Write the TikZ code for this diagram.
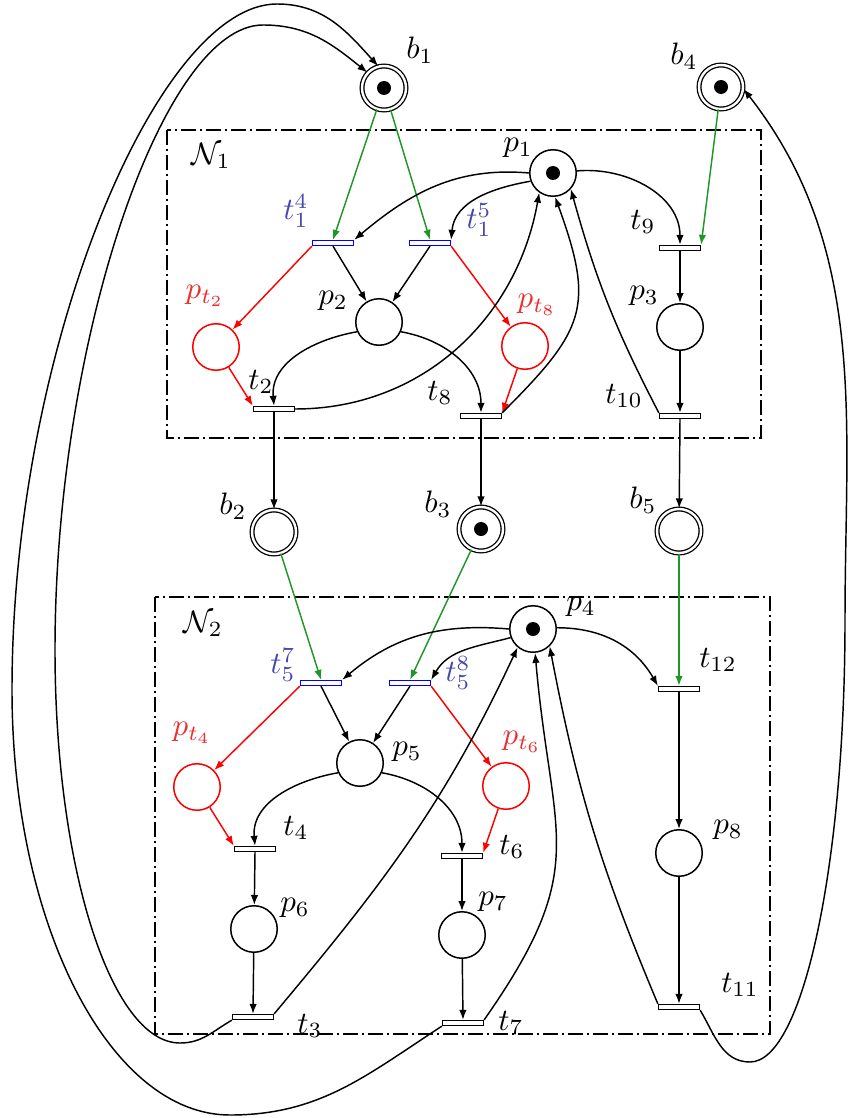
\documentclass[tikz,border=0pt]{standalone}
\usetikzlibrary{arrows.meta}
\definecolor{petgreen}{RGB}{30,150,40}
\definecolor{labred}{RGB}{235,45,45}
\definecolor{labblue}{RGB}{70,70,175}
\tikzset{
 pplace/.style={circle,draw,line width=1.5pt,minimum size=46.5pt,inner sep=0pt},
 rplace/.style={pplace,draw=red},
 bplace/.style={circle,draw,double,double distance=2.4pt,line width=1.3pt,minimum size=44pt,inner sep=0pt},
 trans/.style={rectangle,draw,fill=white,line width=1.3pt,minimum width=41pt,minimum height=5pt,inner sep=0pt},
 btrans/.style={trans,draw=blue},
 lbl/.style={scale=3.1,inner sep=0pt},
 cn/.style={line width=1.45pt,-{Latex[length=10pt,width=7.5pt]}},
 gcn/.style={cn,petgreen},
 rcn/.style={cn,red},
 netbox/.style={line width=1.3pt,dash pattern=on 15pt off 4pt on 2pt off 4pt},
}
\begin{document}
\begin{tikzpicture}[x=1pt,y=1pt]
\useasboundingbox (0,0) rectangle (847,-1118);
% boxes
\draw[netbox] (167,-130) rectangle (761,-438);
\draw[netbox] (155,-597) rectangle (770,-1034);
% places
\node[bplace] (b1) at (384,-88) {};
\node[bplace] (b4) at (721,-87) {};
\node[pplace] (p1) at (553,-173) {};
\node[pplace] (p2) at (379,-322) {};
\node[rplace] (pt2) at (216,-347) {};
\node[rplace] (pt8) at (525,-346) {};
\node[pplace] (p3) at (680,-327) {};
\node[bplace] (b2) at (274,-532) {};
\node[bplace] (b3) at (481,-529) {};
\node[bplace] (b5) at (679,-531) {};
\node[pplace] (p4) at (533,-629) {};
\node[pplace] (p5) at (360,-763) {};
\node[rplace] (pt4) at (197,-787) {};
\node[rplace] (pt6) at (506,-786) {};
\node[pplace] (p8) at (679,-853) {};
\node[pplace] (p6) at (254,-929) {};
\node[pplace] (p7) at (462,-935) {};
% tokens
\foreach \n in {b1,b3,b4,p1,p4} \fill (\n) circle[radius=7pt];
% transitions
\node[btrans] (t14) at (333,-243) {};
\node[btrans] (t15) at (430,-243) {};
\node[trans] (t9) at (680,-248) {};
\node[trans] (t2) at (274,-409) {};
\node[trans] (t8) at (481,-416) {};
\node[trans] (t10) at (680,-416) {};
\node[btrans] (t57) at (321,-683) {};
\node[btrans] (t58) at (410,-683) {};
\node[trans] (t12) at (679,-689) {};
\node[trans] (t4) at (255,-849) {};
\node[trans] (t6) at (462,-856) {};
\node[trans] (t3) at (253,-1017) {};
\node[trans] (t7) at (463,-1023) {};
\node[trans] (t11) at (679,-1007) {};
% labels
\node[lbl] (lb1) at (420,-50) {$b_1$};
\node[lbl] (lb4) at (684,-56) {$b_4$};
\node[lbl] (lp1) at (518,-148) {$p_1$};
\node[lbl,labblue] (lt14) at (296,-211) {$t_1^4$};
\node[lbl,labblue] (lt15) at (479,-220) {$t_1^5$};
\node[lbl] (lt9) at (643,-222) {$t_9$};
\node[lbl,labred] (lpt2) at (205,-296) {$p_{t_2}$};
\node[lbl] (lp2) at (333,-301) {$p_2$};
\node[lbl,labred] (lpt8) at (537,-305) {$p_{t_8}$};
\node[lbl] (lp3) at (644,-296) {$p_3$};
\node[lbl] (lt2) at (261,-382) {$t_2$};
\node[lbl] (lt8) at (440,-393) {$t_8$};
\node[lbl] (lt10) at (624,-396) {$t_{10}$};
\node[lbl] (lN1) at (211,-156) {$\mathcal{N}_1$};
\node[lbl] (lb2) at (233,-506) {$b_2$};
\node[lbl] (lb3) at (438,-504) {$b_3$};
\node[lbl] (lb5) at (643,-500) {$b_5$};
\node[lbl] (lN2) at (203,-624) {$\mathcal{N}_2$};
\node[lbl,labblue] (lt57) at (283,-665) {$t_5^7$};
\node[lbl,labblue] (lt58) at (458,-673) {$t_5^8$};
\node[lbl] (lp4) at (581,-607) {$p_4$};
\node[lbl] (lt12) at (718,-660) {$t_{12}$};
\node[lbl,labred] (lpt6) at (522,-742) {$p_{t_6}$};
\node[lbl,labred] (lpt4) at (192,-733) {$p_{t_4}$};
\node[lbl] (lp5) at (407,-752) {$p_5$};
\node[lbl] (lt4) at (296,-828) {$t_4$};
\node[lbl] (lt6) at (512,-847) {$t_6$};
\node[lbl] (lp8) at (728,-830) {$p_8$};
\node[lbl] (lp6) at (295,-908) {$p_6$};
\node[lbl] (lp7) at (493,-902) {$p_7$};
\node[lbl] (lt3) at (310,-1026) {$t_3$};
\node[lbl] (lt7) at (511,-1023) {$t_7$};
\node[lbl] (lt11) at (740,-985) {$t_{11}$};
% upper net connectors
\draw[gcn] (b1) -- (t14.north);
\draw[gcn] (b1) -- (t15.north);
\draw[gcn] (b4) -- (t9.north east);
\draw[cn] (p1.west) to[out=175,in=40] (t14.north east);
\draw[cn] (p1.200) to[out=190,in=85] (t15.north east);
\draw[cn] (t14.south) -- (p2);
\draw[cn] (t15.south) -- (p2);
\draw[rcn] (t14.south west) -- (pt2);
\draw[rcn] (t15.south east) -- (pt8);
\draw[rcn] (pt2) -- (t2.north west);
\draw[rcn] (pt8) -- (t8.north east);
\draw[cn] (p2.204) to[out=190,in=95] (t2.north);
\draw[cn] (p2.336) to[out=-10,in=90] (t8.north);
\draw[cn] (t2.east) to[out=0,in=-100] (p1.235);
\draw[cn] (t8.north east) to[out=45,in=-70,looseness=1.35] (p1.275);
\draw[cn] (t10.north west) to[bend left=6] (p1.318);
\draw[cn] (p1.5) to[out=5,in=90] (t9.north);
\draw[cn] (t9.south) -- (p3);
\draw[cn] (p3) -- (t10.north);
\draw[cn] (t2.south) -- (b2);
\draw[cn] (t8.south) -- (b3);
\draw[cn] (t10.south) -- (b5);
% lower net connectors
\draw[gcn] (b2) -- (t57.north);
\draw[gcn] (b3) -- (t58.north);
\draw[gcn] (b5) -- (t12.north);
\draw[cn] (p4.west) to[out=175,in=40] (t57.north east);
\draw[cn] (p4.201) to[out=195,in=60] (t58.north east);
\draw[cn] (t57.south) -- (p5);
\draw[cn] (t58.south) -- (p5);
\draw[rcn] (t57.south west) -- (pt4);
\draw[rcn] (t58.south east) -- (pt6);
\draw[rcn] (pt4) -- (t4.north west);
\draw[rcn] (pt6) -- (t6.north east);
\draw[cn] (p5.204) to[out=190,in=95] (t4.north);
\draw[cn] (p5.336) to[out=-10,in=90] (t6.north);
\draw[cn] (t4.south) -- (p6);
\draw[cn] (t6.south) -- (p7);
\draw[cn] (p6) -- (t3.north);
\draw[cn] (p7) -- (t7.north);
\draw[cn] (t3.north east) to[out=50,in=-115] (p4.230);
\draw[cn] (t7.north east) to[out=55,in=-85,looseness=1.3] (p4.275);
\draw[cn] (t11.north west) to[bend left=6] (p4.314);
\draw[cn] (p4.3) to[out=0,in=120] (t12.north west);
\draw[cn] (t12.south) -- (p8);
\draw[cn] (p8) -- (t11.north);
% long outer connectors
\coordinate (i1) at (180,-1043);
\coordinate (i2) at (55,-650);
\coordinate (i4) at (263,-25);
\draw[cn] (t3.south west) to[out=210,in=0] (i1)
  .. controls +(-69,0) and +(0,-217) .. (i2)
  .. controls +(0,310) and +(-100,0) .. (i4)
  to[out=0,in=141] (b1.137);
\coordinate (o1) at (230,-1115);
\coordinate (o2) at (12,-690);
\coordinate (o4) at (277,-4);
\draw[cn] (t7.south west) to[out=213,in=0] (o1)
  .. controls +(-120,0) and +(0,-235) .. (o2)
  .. controls +(0,340) and +(-120,0) .. (o4)
  to[out=0,in=132] (b1.105);
\coordinate (r1) at (750,-1062);
\coordinate (r2) at (845,-620);
\draw[cn] (t11.south east) to[out=-59,in=180] (r1)
  .. controls +(53,0) and +(0,-244) .. (r2)
  .. controls +(0,200) and +(125,-160) .. (b4.-5);
\end{tikzpicture}
\end{document}
